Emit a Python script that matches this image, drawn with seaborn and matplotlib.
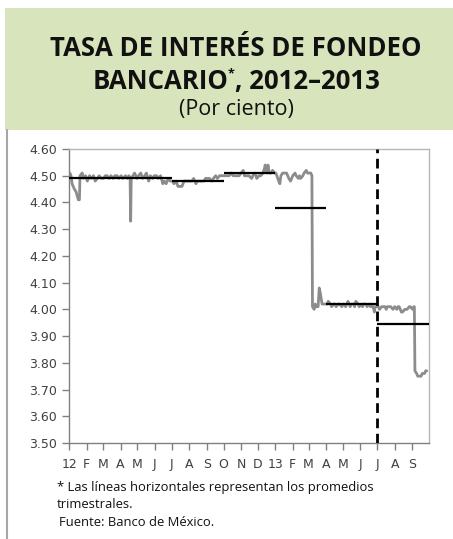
import matplotlib
matplotlib.use("Agg")
import matplotlib.pyplot as plt
from matplotlib.patches import Rectangle
from matplotlib.lines import Line2D
import seaborn as sns
import pandas as pd

# ---------------- data ----------------
dates = [
    "2012-01-02", "2012-01-04", "2012-01-06", "2012-01-10", "2012-01-13", "2012-01-17", "2012-01-19",
    "2012-01-20", "2012-01-24", "2012-01-26", "2012-01-30",
    "2012-02-02", "2012-02-06", "2012-02-09", "2012-02-13", "2012-02-16", "2012-02-20", "2012-02-23", "2012-02-27",
    "2012-03-01", "2012-03-05", "2012-03-08", "2012-03-12", "2012-03-15", "2012-03-19", "2012-03-22", "2012-03-26", "2012-03-29",
    "2012-04-02", "2012-04-05", "2012-04-10", "2012-04-13", "2012-04-16", "2012-04-18", "2012-04-19", "2012-04-20",
    "2012-04-23", "2012-04-26", "2012-04-30",
    "2012-05-03", "2012-05-07", "2012-05-10", "2012-05-14", "2012-05-17", "2012-05-21", "2012-05-24", "2012-05-28", "2012-05-31",
    "2012-06-04", "2012-06-07", "2012-06-11", "2012-06-14", "2012-06-15", "2012-06-18", "2012-06-21", "2012-06-25", "2012-06-28",
    "2012-07-02", "2012-07-05", "2012-07-09", "2012-07-12", "2012-07-16", "2012-07-19", "2012-07-23", "2012-07-26", "2012-07-30",
    "2012-08-02", "2012-08-06", "2012-08-09", "2012-08-13", "2012-08-15", "2012-08-20", "2012-08-23", "2012-08-27", "2012-08-30",
    "2012-09-03", "2012-09-06", "2012-09-10", "2012-09-13", "2012-09-17", "2012-09-20", "2012-09-24", "2012-09-27",
    "2012-10-01", "2012-10-04", "2012-10-08", "2012-10-11", "2012-10-15", "2012-10-18", "2012-10-22", "2012-10-25", "2012-10-29",
    "2012-11-01", "2012-11-05", "2012-11-07", "2012-11-09", "2012-11-13", "2012-11-15", "2012-11-20", "2012-11-22", "2012-11-26", "2012-11-29",
    "2012-12-03", "2012-12-06", "2012-12-10", "2012-12-13", "2012-12-14", "2012-12-17", "2012-12-19", "2012-12-21", "2012-12-24",
    "2012-12-27", "2012-12-31",
    "2013-01-02", "2013-01-07", "2013-01-09", "2013-01-11", "2013-01-14", "2013-01-17", "2013-01-21", "2013-01-23", "2013-01-25",
    "2013-01-28", "2013-01-30",
    "2013-02-01", "2013-02-05", "2013-02-07", "2013-02-11", "2013-02-13", "2013-02-15", "2013-02-19", "2013-02-21", "2013-02-25", "2013-02-27",
    "2013-03-01", "2013-03-05", "2013-03-07", "2013-03-08", "2013-03-11", "2013-03-13", "2013-03-15", "2013-03-18", "2013-03-20",
    "2013-03-22", "2013-03-25", "2013-03-27",
    "2013-04-01", "2013-04-03", "2013-04-05", "2013-04-09", "2013-04-11", "2013-04-15", "2013-04-17", "2013-04-19", "2013-04-23",
    "2013-04-25", "2013-04-29",
    "2013-05-02", "2013-05-06", "2013-05-08", "2013-05-10", "2013-05-14", "2013-05-16", "2013-05-20", "2013-05-22", "2013-05-24",
    "2013-05-28", "2013-05-30",
    "2013-06-03", "2013-06-05", "2013-06-07", "2013-06-11", "2013-06-13", "2013-06-17", "2013-06-19", "2013-06-21", "2013-06-25",
    "2013-06-26", "2013-06-27", "2013-07-01",
    "2013-07-03", "2013-07-05", "2013-07-09", "2013-07-11", "2013-07-15", "2013-07-17", "2013-07-19", "2013-07-23", "2013-07-25", "2013-07-29",
    "2013-08-01", "2013-08-05", "2013-08-07", "2013-08-09", "2013-08-13", "2013-08-15", "2013-08-19", "2013-08-21", "2013-08-23",
    "2013-08-27", "2013-08-29",
    "2013-09-02", "2013-09-04", "2013-09-05", "2013-09-06", "2013-09-09", "2013-09-11", "2013-09-13", "2013-09-17", "2013-09-19",
    "2013-09-23", "2013-09-25", "2013-09-27",
]
rates = [
    4.51, 4.50, 4.47, 4.45, 4.44, 4.41, 4.41, 4.50, 4.51, 4.49, 4.50,
    4.48, 4.50, 4.49, 4.50, 4.48, 4.49, 4.50, 4.49,
    4.49, 4.50, 4.50, 4.49, 4.50, 4.49, 4.50, 4.50, 4.49,
    4.50, 4.49, 4.50, 4.49, 4.50, 4.49, 4.33, 4.49, 4.50, 4.51, 4.49,
    4.50, 4.51, 4.49, 4.50, 4.51, 4.48, 4.50, 4.49, 4.50,
    4.50, 4.49, 4.50, 4.48, 4.47, 4.48, 4.47, 4.49, 4.48,
    4.48, 4.47, 4.48, 4.46, 4.46, 4.46, 4.48, 4.48, 4.48,
    4.48, 4.48, 4.49, 4.47, 4.48, 4.48, 4.48, 4.48, 4.49,
    4.49, 4.49, 4.48, 4.49, 4.50, 4.49, 4.50, 4.50,
    4.50, 4.50, 4.50, 4.50, 4.51, 4.50, 4.50, 4.50, 4.50,
    4.51, 4.52, 4.50, 4.50, 4.50, 4.50, 4.49, 4.50, 4.51, 4.49,
    4.50, 4.50, 4.51, 4.53, 4.54, 4.51, 4.54, 4.51, 4.51, 4.52, 4.51,
    4.51, 4.48, 4.47, 4.50, 4.51, 4.51, 4.51, 4.50, 4.49, 4.48, 4.49,
    4.50, 4.51, 4.50, 4.49, 4.50, 4.49, 4.50, 4.51, 4.52, 4.51,
    4.51, 4.51, 4.50, 4.01, 4.00, 4.02, 4.01, 4.01, 4.08, 4.06, 4.02, 4.02,
    4.02, 4.02, 4.03, 4.02, 4.01, 4.02, 4.02, 4.01, 4.02, 4.02, 4.01,
    4.02, 4.01, 4.02, 4.03, 4.01, 4.02, 4.02, 4.01, 4.03, 4.02, 4.01,
    4.02, 4.01, 4.02, 4.02, 4.01, 4.02, 4.01, 4.02, 4.00, 3.99, 4.01, 4.01,
    4.01, 4.00, 4.01, 4.01, 4.01, 4.00, 4.01, 4.01, 4.01, 4.00,
    4.01, 4.00, 4.01, 4.01, 3.99, 3.99, 4.00, 4.00, 4.00, 4.01, 4.01,
    4.00, 4.01, 4.01, 3.77, 3.76, 3.75, 3.75, 3.75, 3.76, 3.76, 3.77, 3.77,
]

quarter_start = ["2012-01-01", "2012-04-01", "2012-07-01", "2012-10-01", "2013-01-01", "2013-04-01", "2013-07-01"]
quarter_end = ["2012-04-01", "2012-07-01", "2012-10-01", "2013-01-01", "2013-04-01", "2013-07-01", "2013-10-01"]
quarter_avg = [4.49, 4.49, 4.48, 4.51, 4.38, 4.02, 3.945]

month_labels = ["12", "F", "M", "A", "M", "J", "J", "A", "S", "O", "N", "D",
                "13", "F", "M", "A", "M", "J", "J", "A", "S"]
y_ticks = [3.50, 3.60, 3.70, 3.80, 3.90, 4.00, 4.10, 4.20, 4.30, 4.40, 4.50, 4.60]
marker_date = "2013-07-01"

df = pd.DataFrame({"fecha": pd.to_datetime(dates), "tasa": rates})

# ---------------- figure ----------------
sns.set_style("white")
plt.rcParams["font.family"] = ["DejaVu Sans"]

fig = plt.figure(figsize=(4.53, 5.39), dpi=100)
W, H = 453, 539

# title box
fig.add_artist(Rectangle((5 / W, 1 - 130 / H), 1 - 5 / W, 122 / H, transform=fig.transFigure,
                         facecolor="#d8e4bc", edgecolor="none", zorder=0))
fig.add_artist(Line2D([7 / W, 7 / W], [0, 1 - 130 / H], transform=fig.transFigure,
                      color="#a6a6a6", lw=1.5))

tfont = ["Open Sans", "DejaVu Sans"]
tsize = 18.5
fig.text(236 / W, 1 - 49 / H, "TASA DE INTERÉS DE FONDEO", ha="center", va="center",
         fontsize=tsize, fontweight="bold", family=tfont, color="#111111")

# second title line built from pieces so the asterisk can be a small superscript
renderer = fig.canvas.get_renderer()
y2 = 1 - 81 / H
p1 = fig.text(0, y2, "BANCARIO", ha="left", va="center", fontsize=tsize,
              fontweight="bold", family=tfont, color="#111111")
p2 = fig.text(0, y2 + 7 / H, "*", ha="left", va="center", fontsize=9,
              fontweight="bold", family=tfont, color="#111111")
p3 = fig.text(0, y2, ", 2012–2013", ha="left", va="center", fontsize=tsize,
              fontweight="bold", family=tfont, color="#111111")
w1 = p1.get_window_extent(renderer).width
w2 = p2.get_window_extent(renderer).width
w3 = p3.get_window_extent(renderer).width
x0 = 236 - (w1 + w2 + w3) / 2
p1.set_x(x0 / W)
p2.set_x((x0 + w1) / W)
p3.set_x((x0 + w1 + w2) / W)

fig.text(236 / W, 1 - 109 / H, "(Por ciento)", ha="center", va="center",
         fontsize=15.5, family=tfont, color="#111111")

ax = fig.add_axes([69.3 / W, 1 - 443 / H, (429 - 69.3) / W, (443 - 149) / H])

sns.lineplot(data=df, x="fecha", y="tasa", ax=ax, color="#8c8c8c", lw=2.0, zorder=2)

qs = pd.to_datetime(quarter_start)
qe = pd.to_datetime(quarter_end)
ax.hlines(quarter_avg, qs, qe, color="black", lw=1.6, zorder=3)
ax.axvline(pd.to_datetime(marker_date), color="black", lw=2.0, ls=(0, (3.5, 2)), zorder=4)

ax.set_xlim(pd.Timestamp("2012-01-01"), pd.Timestamp("2013-10-01"))
ax.set_ylim(3.50, 4.60)
ax.set_yticks(y_ticks)
ax.set_yticklabels([f"{v:.2f}" for v in y_ticks])
tick_dates = pd.date_range("2012-01-01", periods=len(month_labels), freq="MS")
ax.set_xticks(tick_dates)
ax.set_xticklabels(month_labels)
ax.set_xlabel("")
ax.set_ylabel("")

ax.tick_params(axis="both", which="both", direction="out", length=5, width=1,
               color="#808080", labelsize=9, labelcolor="#404040", pad=4,
               left=True, bottom=True)
ax.tick_params(axis="x", pad=6)
for s in ["left", "bottom"]:
    ax.spines[s].set_color("#808080")
    ax.spines[s].set_linewidth(1.0)
for s in ["top", "right"]:
    ax.spines[s].set_color("#b7b7b7")
    ax.spines[s].set_linewidth(1.0)

nfont = ["Open Sans", "DejaVu Sans"]
nsize = 9.4
fig.text(57 / W, 1 - 488 / H, "* Las líneas horizontales representan los promedios", ha="left",
         va="center", fontsize=nsize, family=nfont, color="#111111")
fig.text(57 / W, 1 - 505 / H, "trimestrales.", ha="left", va="center", fontsize=nsize,
         family=nfont, color="#111111")
fig.text(59 / W, 1 - 522 / H, "Fuente: Banco de México.", ha="left", va="center", fontsize=nsize,
         family=nfont, color="#111111")

fig.savefig("out.png", dpi=100)
